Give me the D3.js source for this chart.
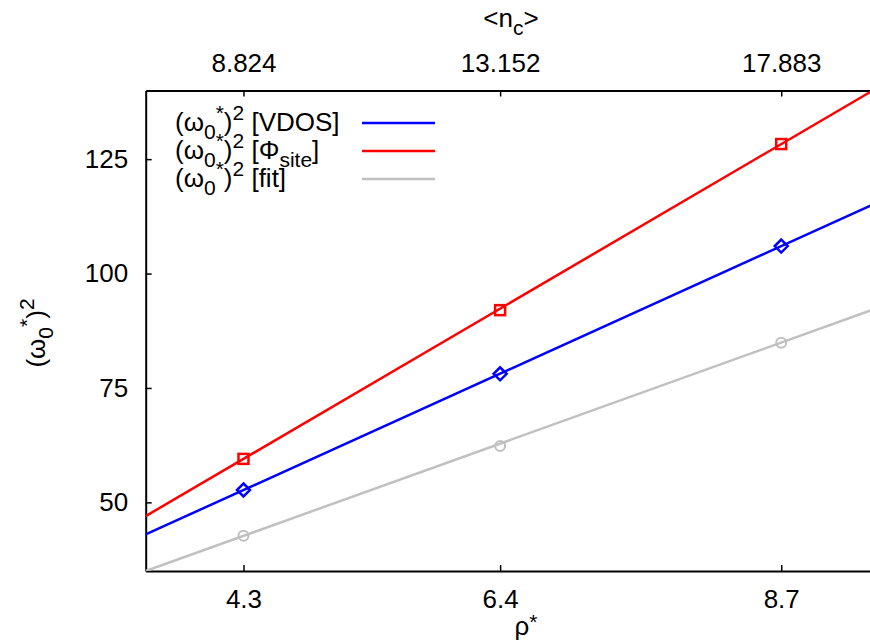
<!DOCTYPE html>
<html><head><meta charset="utf-8">
<script src="https://cdn.jsdelivr.net/npm/d3@7"></script>
<style>
html,body{margin:0;padding:0;background:#fff;}
svg{display:block;font-family:"Liberation Sans",Arial,Helvetica,sans-serif;}
</style></head>
<body>
<svg id="c" width="870" height="642"></svg>
<script>
// ---- data ----
const rho = [4.3, 6.4, 8.7];
const ncLabels = ["8.824", "13.152", "17.883"];
const vdos = [52.7, 78.1, 106.0];
const phiSite = [59.5, 92.0, 128.3];
const fitVals = [42.7, 62.3, 84.9];
const lineX = [3.5, 9.5];
const vdosLine = [43.0, 115.7];
const phiLine = [47.0, 140.8];
const fitLine = [35.0, 92.6];
const yTicks = [50, 75, 100, 125];

const svg = d3.select("#c");
const FS = 26;
const x = d3.scaleLinear().domain([3.5, 9.5]).range([145.7, 879]);
const y = d3.scaleLinear().domain([35, 140]).range([571, 90.5]);
const L = x.range()[0], R = x.range()[1], T = y.range()[1], B = y.range()[0];

svg.append("defs").append("clipPath").attr("id", "clip")
  .append("rect").attr("x", L).attr("y", T).attr("width", R - L).attr("height", B - T);

// rich text helper
function rich(sel, parts, supShift) {
  const up = supShift === undefined ? -11 : supShift;
  let cur = 0;
  parts.forEach(p => {
    const target = p.s === "sub" ? 8 : p.s === "sup" ? up : 0;
    const ts = sel.append("tspan").text(p.t).attr("dy", target - cur);
    if (p.s) ts.attr("font-size", 21);
    cur = target;
  });
}
const omegaParts = [{t: "(ω"}, {t: "0", s: "sub"}, {t: "*", s: "sup"}, {t: ")"}, {t: "2", s: "sup"}];

// axes
const axB = d3.axisBottom(x).tickValues(rho).tickFormat(d3.format(".1f")).tickSizeInner(-6).tickSizeOuter(0).tickPadding(18.5);
const axT = d3.axisTop(x).tickValues(rho).tickFormat((d, i) => ncLabels[i]).tickSizeInner(-6).tickSizeOuter(0).tickPadding(19);
const axL = d3.axisLeft(y).tickValues(yTicks).tickSizeInner(-6).tickSizeOuter(0).tickPadding(17.5);

function styleAxis(g) {
  g.attr("font-size", FS).attr("font-family", null);
  g.select(".domain").attr("stroke", "#000").attr("stroke-width", 2);
  g.selectAll(".tick line").attr("stroke", "#000").attr("stroke-width", 1.5);
  g.selectAll(".tick text").attr("fill", "#000");
}
svg.append("g").attr("transform", `translate(0,${B})`).call(axB).call(styleAxis);
svg.append("g").attr("transform", `translate(0,${T})`).call(axT).call(styleAxis);
svg.append("g").attr("transform", `translate(${L},0)`).call(axL).call(styleAxis);

// lines
const series = [
  {vals: vdos, line: vdosLine, color: "#0000ff", mk: "diamond"},
  {vals: phiSite, line: phiLine, color: "#ff0000", mk: "square"},
  {vals: fitVals, line: fitLine, color: "#c0c0c0", mk: "circle"}
];
const lg = svg.append("g").attr("clip-path", "url(#clip)");
series.forEach(s => {
  lg.append("line")
    .attr("x1", x(lineX[0])).attr("y1", y(s.line[0]))
    .attr("x2", x(lineX[1])).attr("y2", y(s.line[1]))
    .attr("stroke", s.color).attr("stroke-width", 2.5);
});
series.forEach(s => {
  s.vals.forEach((v, i) => {
    const cx = x(rho[i]), cy = y(v);
    if (s.mk === "square") {
      lg.append("rect").attr("x", cx - 5).attr("y", cy - 5).attr("width", 10).attr("height", 10)
        .attr("fill", "none").attr("stroke", s.color).attr("stroke-width", 2.5);
    } else if (s.mk === "diamond") {
      lg.append("path").attr("d", `M${cx},${cy - 6.5}L${cx + 6.5},${cy}L${cx},${cy + 6.5}L${cx - 6.5},${cy}Z`)
        .attr("fill", "none").attr("stroke", s.color).attr("stroke-width", 2.5);
    } else {
      lg.append("circle").attr("cx", cx).attr("cy", cy).attr("r", 5)
        .attr("fill", "none").attr("stroke", s.color).attr("stroke-width", 2);
    }
  });
});

// legend
const legRows = [
  {parts: omegaParts.concat([{t: " [VDOS]"}]), color: "#0000ff"},
  {parts: omegaParts.concat([{t: " [Φ"}, {t: "site", s: "sub"}, {t: "]"}]), color: "#ff0000"},
  {parts: omegaParts.concat([{t: " [fit]"}]), color: "#c0c0c0"}
];
legRows.forEach((r, i) => {
  const ly = 123 + i * 28;
  const t = svg.append("text").attr("x", 175).attr("y", ly + 8).attr("font-size", FS).attr("fill", "#000");
  rich(t, r.parts);
  svg.append("line").attr("x1", 362).attr("x2", 435).attr("y1", ly).attr("y2", ly)
    .attr("stroke", r.color).attr("stroke-width", 2.5);
});

// axis titles
const xt = svg.append("text").attr("x", 526).attr("y", 635).attr("text-anchor", "middle").attr("font-size", FS);
rich(xt, [{t: "ρ"}, {t: "*", s: "sup"}], -6);
const tt = svg.append("text").attr("x", 511).attr("y", 27).attr("text-anchor", "middle").attr("font-size", FS);
rich(tt, [{t: "<n"}, {t: "c", s: "sub"}, {t: ">"}]);
const yt = svg.append("text").attr("transform", "translate(45,333) rotate(-90)").attr("text-anchor", "middle").attr("font-size", FS);
rich(yt, omegaParts);
</script>
</body></html>
